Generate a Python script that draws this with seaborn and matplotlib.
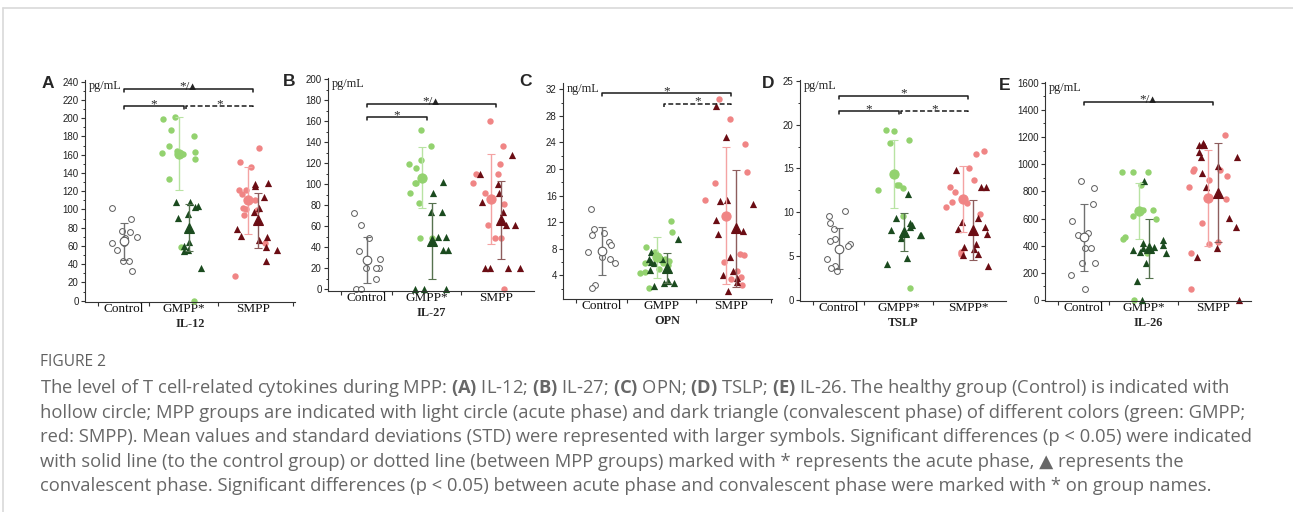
import numpy as np
import pandas as pd
import matplotlib
matplotlib.use("Agg")
import matplotlib.pyplot as plt
import seaborn as sns
from matplotlib.lines import Line2D
from matplotlib.ticker import MultipleLocator, FixedLocator, NullFormatter

W, H = 1293, 512

# ---------------- values ----------------
panel_letters = ["A", "B", "C", "D", "E"]
cytokines = ["IL-12", "IL-27", "OPN", "TSLP", "IL-26"]
units = ["pg/mL", "pg/mL", "ng/mL", "pg/mL", "pg/mL"]
tick_labels = [
    ["Control", "GMPP*", "SMPP"],
    ["Control", "GMPP*", "SMPP"],
    ["Control", "GMPP", "SMPP"],
    ["Control", "GMPP*", "SMPP*"],
    ["Control", "GMPP*", "SMPP"],
]
series_names = ["control", "gmpp_acute", "gmpp_conv", "smpp_acute", "smpp_conv"]

# IL-12
il12_control = [102, 89, 76, 75, 70, 69, 63, 63, 56, 44, 44, 33]
il12_gmpp_acute = [201, 199, 187, 180, 170, 164, 163, 162, 161, 155, 133, 59, 0]
il12_gmpp_conv = [108, 108, 104, 103, 95, 91, 64, 60, 56, 54, 36]
il12_smpp_acute = [167, 152, 146, 121, 121, 117, 110, 102, 101, 99, 94, 63, 27]
il12_smpp_conv = [129, 128, 126, 114, 102, 97, 79, 71, 70, 66, 59, 56, 44]
il12_mean = [65, 161, 80, 110, 88]
il12_sd = [20, 40, 26, 37, 30]

# IL-27
il27_control = [72, 61, 49, 36, 29, 20, 20, 20, 10, 0, 0]
il27_gmpp_acute = [152, 136, 123, 119, 115, 101, 101, 92, 82, 49, 49]
il27_gmpp_conv = [102, 92, 73, 73, 50, 50, 37, 37, 0, 0, 0]
il27_smpp_acute = [160, 136, 119, 110, 110, 101, 92, 81, 61, 49, 49, 0]
il27_smpp_conv = [128, 110, 100, 92, 83, 73, 61, 61, 20, 20, 20, 20]
il27_mean = [28, 106, 46, 86, 66]
il27_sd = [22, 29, 36, 43, 37]

# OPN
opn_control = [14, 10.9, 10.4, 10, 9, 8.5, 7.5, 6.8, 6.5, 5.9, 2.6, 2.1]
opn_gmpp_acute = [12.2, 10.5, 8.2, 7.5, 6.4, 6.1, 5.9, 5.8, 5.5, 4.9, 4.5, 4.3, 2.1]
opn_gmpp_conv = [9.5, 7.5, 6.4, 6.4, 6.0, 5.9, 4.8, 3.2, 2.8, 2.8, 2.4]
opn_smpp_acute = [30.5, 27.5, 23.7, 19.5, 17.9, 15.3, 7.2, 7.0, 6.0, 4.7, 3.7, 3.4, 2.5]
opn_smpp_conv = [29.5, 24.9, 15.3, 15.2, 14.7, 12.4, 10.7, 10.2, 6.8, 4.7, 4.1, 3.6, 3.0, 1.7]
opn_mean = [7.7, 6.7, 5.1, 13.0, 11.1]
opn_sd = [3.6, 3.1, 2.3, 10.3, 8.8]

# TSLP
tslp_control = [10.1, 9.6, 8.8, 8.1, 7.0, 6.7, 6.4, 6.2, 4.7, 3.9, 3.7, 3.3]
tslp_gmpp_acute = [19.35, 19.25, 18.2, 17.9, 13.15, 13.15, 12.75, 12.6, 9.6, 1.4]
tslp_gmpp_conv = [12.1, 9.3, 8.8, 8.6, 8.35, 8.0, 7.4, 7.4, 7.05, 4.8, 4.1]
tslp_smpp_acute = [17.0, 16.6, 15.0, 13.7, 12.9, 12.3, 11.2, 11.1, 10.6, 9.8, 5.5, 5.3]
tslp_smpp_conv = [14.8, 12.9, 12.9, 9.3, 8.9, 8.3, 8.1, 7.5, 6.4, 6.1, 5.8, 5.3, 5.1, 3.9]
tslp_mean = [5.85, 14.4, 7.75, 11.55, 8.0]
tslp_sd = [2.35, 3.9, 2.15, 3.75, 3.4]

# IL-26
il26_control = [874, 822, 709, 579, 496, 478, 380, 380, 270, 270, 184, 79]
il26_gmpp_acute = [940, 940, 940, 847, 663, 663, 621, 594, 466, 451, 346, 0]
il26_gmpp_conv = [876, 442, 417, 402, 388, 383, 368, 353, 346, 275, 142, 0]
il26_smpp_acute = [1215, 962, 957, 950, 915, 884, 829, 741, 565, 429, 415, 349, 79]
il26_smpp_conv = [1155, 1139, 1139, 1090, 1055, 1055, 989, 935, 830, 601, 540, 385, 317, 0]
il26_mean = [462, 656, 380, 752, 790]
il26_sd = [248, 206, 220, 352, 365]

panel_series = [
    [il12_control, il12_gmpp_acute, il12_gmpp_conv, il12_smpp_acute, il12_smpp_conv],
    [il27_control, il27_gmpp_acute, il27_gmpp_conv, il27_smpp_acute, il27_smpp_conv],
    [opn_control, opn_gmpp_acute, opn_gmpp_conv, opn_smpp_acute, opn_smpp_conv],
    [tslp_control, tslp_gmpp_acute, tslp_gmpp_conv, tslp_smpp_acute, tslp_smpp_conv],
    [il26_control, il26_gmpp_acute, il26_gmpp_conv, il26_smpp_acute, il26_smpp_conv],
]
panel_means = [il12_mean, il27_mean, opn_mean, tslp_mean, il26_mean]
panel_sds = [il12_sd, il27_sd, opn_sd, tslp_sd, il26_sd]

# significance brackets: (from group, to group, label, dashed, height)
brackets = [
    [(0, 2, "*/\u25b4", False, 232), (0, 1, "*", False, 213), (1, 2, "*", True, 213)],
    [(0, 2, "*/\u25b4", False, 176), (0, 1, "*", False, 164)],
    [(0, 2, "*", False, 31.4), (1, 2, "*", True, 29.8)],
    [(0, 2, "*", False, 23.3), (0, 1, "*", False, 21.55), (1, 2, "*", True, 21.55)],
    [(0, 2, "*/\u25b4", False, 1458)],
]

caption_title = "FIGURE 2"
caption_lines = [
    r"The level of T cell-related cytokines during MPP: $\mathbf{(A)}$ IL-12; $\mathbf{(B)}$ IL-27; "
    r"$\mathbf{(C)}$ OPN; $\mathbf{(D)}$ TSLP; $\mathbf{(E)}$ IL-26. The healthy group (Control) is indicated with",
    "hollow circle; MPP groups are indicated with light circle (acute phase) and dark triangle (convalescent phase) of different colors (green: GMPP;",
    "red: SMPP). Mean values and standard deviations (STD) were represented with larger symbols. Significant differences (p < 0.05) were indicated",
    "with solid line (to the control group) or dotted line (between MPP groups) marked with * represents the acute phase, \u25b2 represents the",
    "convalescent phase. Significant differences (p < 0.05) between acute phase and convalescent phase were marked with * on group names.",
]

# ---------------- layout ----------------
axes_px = [(85, 80, 295, 302), (328, 78, 534, 291), (563, 83, 772, 299),
           (800, 80, 1006, 301), (1045, 82, 1251, 301)]
y_limits = [(-1.4, 241.8), (-1.9, 201.2), (0.43, 32.96), (-0.11, 25.09), (-7.4, 1605)]
y_major = [20, 20, 4, 5, 200]
y_minor = [10, 10, 2, 2.5, 100]
letter_px = [(48, 83), (289, 81), (526, 82), (768, 83), (1005, 85)]
group_centers = [0.77, 1.98, 3.36]
separators = [0.26, 1.28, 2.66, 4.16]
group_of = [0, 1, 1, 2, 2]

styles = {
    "control": dict(marker="o", face="white", edge="#5c5c5c", lw=0.7, size=4.2, jitter=0.28,
                    offset=0.0, bar="#707070", ms=6.2),
    "gmpp_acute": dict(marker="o", face="#93d26f", edge="#93d26f", lw=0, size=4.6, jitter=0.36,
                       offset=-0.1, bar="#b8e3a3", ms=6.6),
    "gmpp_conv": dict(marker="^", face="#1b4b1f", edge="#1b4b1f", lw=0, size=5.2, jitter=0.36,
                      offset=0.1, bar="#56724f", ms=7.6),
    "smpp_acute": dict(marker="o", face="#f08585", edge="#f08585", lw=0, size=4.6, jitter=0.42,
                       offset=-0.1, bar="#f4a3a3", ms=6.6),
    "smpp_conv": dict(marker="^", face="#6b0d14", edge="#6b0d14", lw=0, size=5.2, jitter=0.42,
                      offset=0.1, bar="#8e5d5d", ms=7.6),
}

SERIF = ["Liberation Serif", "DejaVu Serif", "DejaVu Sans"]
SANS = ["Liberation Sans", "DejaVu Sans"]


def draw_panel(fig, k):
    l, t, r, b = axes_px[k]
    ax = fig.add_axes([l / W, 1 - b / H, (r - l) / W, (b - t) / H])
    ax.set_facecolor("none")
    vals = panel_series[k]
    for j, name in enumerate(series_names):
        st = styles[name]
        xpos = group_centers[group_of[j]] + st["offset"]
        frame = pd.DataFrame({"pos": xpos, "value": vals[j]})
        sns.stripplot(data=frame, x="pos", y="value", native_scale=True, jitter=st["jitter"],
                      marker=st["marker"], color=st["face"], edgecolor=st["edge"],
                      linewidth=st["lw"], size=st["size"], ax=ax, zorder=2, clip_on=False)
        ax.errorbar(xpos, panel_means[k][j], yerr=panel_sds[k][j], fmt=st["marker"],
                    ms=st["ms"], mfc=st["face"], mec=st["edge"] if st["lw"] else st["face"],
                    mew=0.8, ecolor=st["bar"], elinewidth=1.0, capsize=3, capthick=1.0,
                    zorder=3)

    y0, y1 = y_limits[k]
    tick = 3 * (y1 - y0) / (b - t)
    for g0, g1, label, dashed, yb in brackets[k]:
        x0 = group_centers[g0] + (0.04 if dashed else 0)
        x1 = group_centers[g1]
        ax.plot([x0, x0, x1, x1], [yb - tick, yb, yb, yb - tick], color="#1a1a1a", lw=1.1,
                ls=(0, (3.2, 1.6)) if dashed else "-", clip_on=False, zorder=4)
        ax.annotate(label, xy=((x0 + x1) / 2, yb), xytext=(0, -0.6), textcoords="offset points",
                    ha="center", va="baseline", fontsize=9.5, family=SERIF, clip_on=False)

    ax.set_xlim(0, (r - l) / 50)
    ax.set_ylim(y0, y1)
    ax.set_ylabel("")
    ax.set_xlabel(cytokines[k], fontsize=8.8, fontweight="bold", family=SERIF, labelpad=2)
    ax.xaxis.set_major_locator(FixedLocator(separators))
    ax.xaxis.set_major_formatter(NullFormatter())
    ax.set_xticks(group_centers, tick_labels[k], minor=True)
    ax.tick_params(axis="x", which="major", direction="out", length=3, width=0.8, color="#333333")
    ax.tick_params(axis="x", which="minor", length=0, pad=1, labelsize=9.5, labelcolor="#111111")
    for lbl in ax.get_xticklabels(minor=True):
        lbl.set_family(SERIF)
    ax.yaxis.set_major_locator(MultipleLocator(y_major[k]))
    ax.yaxis.set_minor_locator(MultipleLocator(y_minor[k]))
    ax.tick_params(axis="y", which="major", direction="out", length=3, width=0.8, pad=1.5,
                   labelsize=7, color="#333333", labelcolor="#222222")
    ax.tick_params(axis="y", which="minor", direction="out", length=1.6, width=0.7, color="#333333")
    for lbl in ax.get_yticklabels():
        lbl.set_family(SANS)
    for side in ["top", "right"]:
        ax.spines[side].set_visible(False)
    for side in ["left", "bottom"]:
        ax.spines[side].set_linewidth(0.8)
        ax.spines[side].set_color("#333333")

    ax.annotate(units[k], xy=(0, 1), xycoords="axes fraction", xytext=(2.5, -4.5),
                textcoords="offset points", ha="left", va="center", fontsize=8.8, family=SERIF)
    lx, ly = letter_px[k]
    fig.text(lx / W, 1 - ly / H, panel_letters[k], ha="center", va="center", fontsize=12.5,
             fontweight="bold", family=SANS)


def draw_caption(fig):
    rend = fig.canvas.get_renderer()
    probe = fig.text(0, 0, caption_lines[2], fontsize=10, family="Open Sans")
    size = 10 * 1213 / probe.get_window_extent(rend).width
    probe.remove()
    probe = fig.text(0, 0, caption_title, fontsize=10, family="Open Sans")
    tsize = 10 * 66 / probe.get_window_extent(rend).width
    probe.remove()

    fig.text(40 / W, 1 - 362 / H, caption_title, fontsize=tsize, family="Open Sans",
             color="#5f5f5f", ha="left", va="center")
    for i, line in enumerate(caption_lines):
        y = 388 + i * 24.6
        fig.text(40 / W, 1 - y / H, line, fontsize=size, family=["Open Sans", "DejaVu Sans"],
                 color="#676767", ha="left", va="center")


def main() -> None:
    np.random.seed(7)
    sns.set_style("ticks")
    plt.rcParams["mathtext.fontset"] = "custom"
    plt.rcParams["mathtext.rm"] = "Open Sans"
    plt.rcParams["mathtext.bf"] = "Open Sans:bold"
    plt.rcParams["font.family"] = ["Liberation Sans", "DejaVu Sans"]

    fig = plt.figure(figsize=(W / 100, H / 100), dpi=100)
    fig.patch.set_facecolor("white")

    # light frame around the figure block
    fig.add_artist(Line2D([3 / W, 1], [1 - 8 / H, 1 - 8 / H], color="#d9d9d9", lw=1.2))
    fig.add_artist(Line2D([3 / W, 3 / W], [0, 1 - 8 / H], color="#d9d9d9", lw=1.2))

    for k in range(len(panel_letters)):
        draw_panel(fig, k)
    draw_caption(fig)

    fig.savefig("out.png", dpi=100)


if __name__ == "__main__":
    main()
